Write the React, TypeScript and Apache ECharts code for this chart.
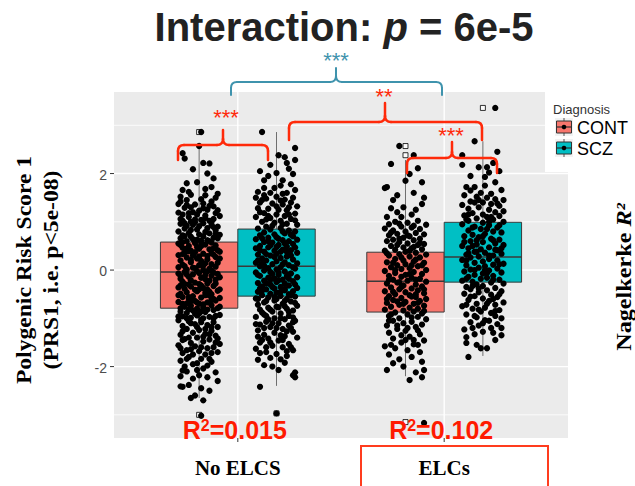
import React, { useEffect, useRef } from 'react';
import * as echarts from 'echarts';

// ---------- data ----------
const categories = ['No ELCS', 'ELCs'];
const categoryPos = [1, 2];
const groups = ['CONT', 'SCZ'];
const groupColors = ['#F8766D', '#00BFC4'];
const dodgeOffset = [-0.1875, 0.1875];
const boxHalfWidth = 0.1875;

// [lower whisker, Q1, median, Q3, upper whisker] per category
const boxCONT = [
  [-2.65, -0.79, -0.04, 0.58, 2.59],
  [-2.2, -0.87, -0.23, 0.37, 2.28],
];
const boxSCZ = [
  [-2.4, -0.54, 0.08, 0.85, 2.86],
  [-1.78, -0.25, 0.27, 0.99, 2.67],
];
const outliersCONT = [[2.86, -3.0], [2.57, 2.38, -3.15]];
const outliersSCZ = [[-2.97], [3.36]];

const yMajorTicks = [-2, 0, 2];
const yMinorTicks = [-3, -1, 1, 3];
const r2Values = ['0.015', '0.102'];

// jitter points: [horizontal jitter in hundredths of a category unit, score]
const jitterContNoElcs = [
  [-8, 2.42], [-7, 2.31], [0, 2.57], [1, 2.86], [-3, 2.09], [2, 2.22], [5, 2.21], [4, 2.0], [7, 1.9], [-6, 1.8],
  [-1, 1.82], [-8, 1.66], [3, 1.68], [6, 1.72], [-9, 1.52], [-4, 1.56], [1, 1.47], [8, 1.5], [-2, 1.36], [5, 1.33],
  [-7, 1.29], [9, 1.24], [-10, 1.19], [0, 1.23], [3, 1.13], [-5, 1.1], [7, 1.06], [-8, 1.02], [-2, 1.05], [10, 1.12],
  [-4, 1.3], [6, 1.42], [-9, 1.42], [-6, 1.45], [2, 1.38], [4, 1.25], [-8, 1.15], [-1, 1.15], [8, 1.18], [-6, 1.35],
  [1, 1.04], [-4, 1.0], [7, 1.32], [-10, 1.37], [3, 1.55], [-5, 1.62], [9, 1.58],
  [-9, 0.96], [-3, 0.94], [2, 0.97], [6, 0.93], [9, 0.9], [-7, 0.86], [-1, 0.84], [4, 0.87], [8, 0.82], [-10, 0.8],
  [-5, 0.77], [0, 0.74], [5, 0.76], [-8, 0.72], [10, 0.73], [2, 0.7], [-9, 0.66], [-3, 0.64], [7, 0.67], [1, 0.61],
  [-6, 0.6], [4, 0.62], [-10, 0.55], [-2, 0.56], [3, 0.53], [8, 0.51], [-5, 0.5], [6, 0.57], [-8, 0.46], [0, 0.44],
  [5, 0.43], [9, 0.41], [-4, 0.4], [-1, 0.48], [-7, 0.36], [2, 0.34], [7, 0.32], [-10, 0.31], [-3, 0.3], [10, 0.38],
  [-6, 0.26], [-1, 0.24], [4, 0.22], [8, 0.27], [-9, 0.2], [1, 0.19], [-4, 0.16], [3, 0.14], [6, 0.12], [-8, 0.11],
  [0, 0.1], [9, 0.15], [-10, 0.06], [-2, 0.04], [5, 0.03], [-6, 0.01], [2, 0.0], [8, 0.07],
  [-7, -0.04], [0, -0.06], [4, -0.03], [9, -0.08], [-3, -0.09], [-10, -0.07], [-5, -0.14], [1, -0.16], [6, -0.12], [-9, -0.18],
  [3, -0.19], [10, -0.15], [-8, -0.24], [-2, -0.26], [5, -0.22], [8, -0.28], [0, -0.29], [-5, -0.3], [-10, -0.36], [-4, -0.34],
  [2, -0.37], [7, -0.33], [-7, -0.39], [4, -0.4], [-6, -0.46], [-1, -0.44], [3, -0.47], [9, -0.43], [-9, -0.49], [6, -0.5],
  [-8, -0.56], [-3, -0.54], [1, -0.57], [5, -0.53], [10, -0.58], [-5, -0.6], [-10, -0.66], [-2, -0.64], [4, -0.67], [8, -0.63],
  [-6, -0.69], [0, -0.7], [-7, -0.76], [-4, -0.74], [2, -0.77], [6, -0.73], [9, -0.79], [-1, -0.8], [-9, -0.86], [-3, -0.84],
  [3, -0.87], [7, -0.83], [-6, -0.89], [0, -0.9], [-8, -0.96], [-1, -0.94], [5, -0.97], [10, -0.93], [-4, -0.99], [2, -1.0],
  [-10, -1.04], [-5, -1.06], [1, -1.03], [7, -1.08], [-2, -1.12], [4, -1.14], [9, -1.18], [-8, -1.16], [-6, -1.22], [0, -1.24],
  [6, -1.26], [-3, -1.3], [3, -1.32], [-9, -1.34], [8, -1.36], [-1, -1.4], [-7, -1.43], [5, -1.44], [2, -1.48], [-4, -1.51],
  [10, -1.53], [-10, -1.56], [-2, -1.58], [4, -1.62], [7, -1.6], [-6, -1.66], [0, -1.68], [-8, -1.72], [3, -1.75], [9, -1.7],
  [-5, -1.8], [1, -1.84], [-9, -1.88], [6, -1.9], [-3, -1.95], [-7, -2.0], [2, -2.04], [-1, -2.07], [-6, -2.1], [8, -2.12],
  [-9, -2.2], [4, -2.22], [-3, -2.25], [9, -2.3], [-8, -2.42], [-5, -2.38], [1, -2.45], [5, -2.5], [-2, -2.6], [-4, -2.65],
  [2, -2.7], [-9, -2.41], [1, -3.02],
  [-5, 1.18], [3, 1.08], [-9, 1.06], [6, 0.99], [-2, 0.99], [0, 0.91], [-6, 0.92], [7, 0.89], [3, 0.79], [-4, 0.83],
  [-7, 0.7], [9, 0.66], [-1, 0.63], [5, 0.6], [-9, 0.52], [1, 0.5], [-6, 0.44], [7, 0.45], [-2, 0.37], [4, 0.29],
  [-8, 0.33], [10, 0.24], [-4, 0.21], [2, 0.09], [-7, 0.08], [6, -0.01], [-1, -0.02], [-9, -0.12], [3, -0.1], [8, -0.2],
  [-4, -0.21], [1, -0.32], [-7, -0.29], [10, -0.4], [-2, -0.41], [5, -0.45], [-10, -0.52], [3, -0.52], [-5, -0.56], [7, -0.6],
  [-1, -0.67], [2, -0.71], [-8, -0.7], [10, -0.76], [-5, -0.82], [4, -0.82], [-2, -0.9], [8, -0.95], [-10, -0.96], [1, -1.08],
  [-4, -1.1], [6, -1.18], [-8, -1.27], [3, -1.22], [9, -1.42], [-5, -1.4], [1, -1.6], [-9, -1.62], [6, -1.72], [-3, -1.75],
  [-1, -1.93], [4, -1.98], [-8, -2.08],
  [2, 1.28], [-3, 1.2], [5, 1.02], [-7, 0.97], [8, 0.75], [-4, 0.69], [1, 0.56], [-8, 0.58], [6, 0.35], [-5, 0.39],
  [0, 0.28], [-3, 0.05], [7, -0.05], [-6, -0.09], [4, -0.28], [-9, -0.32], [0, -0.4], [6, -0.62], [-4, -0.64], [-9, -0.79],
  [1, -0.86], [7, -1.0], [-6, -1.0], [-1, -1.18], [5, -1.33], [-8, -1.45], [2, -1.38], [8, -1.5], [-4, -1.64], [5, -1.84],
  [-6, -1.84], [0, -2.18],
];

const jitterSczNoElcs = [
  [-7, 2.86], [9, 2.53], [1, 2.38], [4, 2.34], [-3, 2.18], [9, 2.28], [8, 1.99], [5, 2.22], [0, 2.01], [-6, 1.86],
  [3, 1.86], [-9, 1.62], [9, 1.66], [-4, 1.95], [6, 2.1], [-8, 2.05], [2, 1.75], [-1, 1.7], [-6, 1.55], [7, 1.78],
  [-10, 1.5], [-5, 1.48], [0, 1.52], [4, 1.46], [8, 1.5], [-8, 1.4], [-2, 1.38], [3, 1.36], [7, 1.4], [10, 1.32],
  [-9, 1.28], [-4, 1.27], [1, 1.25], [5, 1.24], [-6, 1.18], [0, 1.15], [4, 1.12], [9, 1.17], [-10, 1.1], [-3, 1.08],
  [7, 1.06], [2, 1.02], [-7, 1.0], [-1, 0.98], [5, 0.96], [10, 0.94], [-5, 0.9], [3, 1.58], [-3, 1.6], [6, 1.3],
  [-9, 0.86], [-3, 0.84], [2, 0.87], [6, 0.82], [9, 0.8], [-6, 0.78], [-1, 0.74], [4, 0.76], [-8, 0.72], [8, 0.7],
  [0, 0.68], [-4, 0.67], [-10, 0.64], [3, 0.62], [6, 0.6], [-6, 0.58], [10, 0.63], [-2, 0.57], [1, 0.52], [-8, 0.5],
  [5, 0.49], [8, 0.54], [-4, 0.47], [-10, 0.45], [3, 0.42], [-1, 0.4], [7, 0.41], [-6, 0.38], [10, 0.36], [0, 0.34],
  [-9, 0.32], [-3, 0.3], [5, 0.28], [2, 0.25], [-7, 0.24], [8, 0.22], [-5, 0.2], [0, 0.18], [4, 0.16], [10, 0.14],
  [-10, 0.15], [-2, 0.12], [6, 0.1], [-8, 0.08], [2, 0.06], [-4, 0.04], [9, 0.03], [0, 0.01], [-6, -0.01], [4, -0.03],
  [-10, -0.05], [7, -0.07], [-2, -0.08], [1, -0.1], [-8, -0.12], [5, -0.13], [10, -0.15], [-4, -0.16], [-1, -0.18], [3, -0.2],
  [-6, -0.22], [8, -0.23], [0, -0.25], [-9, -0.27], [4, -0.28], [-3, -0.3], [6, -0.32], [-7, -0.34], [2, -0.35], [10, -0.37],
  [-1, -0.38], [-5, -0.4], [4, -0.42], [8, -0.44], [-9, -0.45], [0, -0.47], [-3, -0.49], [6, -0.5], [-7, -0.52], [2, -0.54],
  [9, -0.55], [-4, -0.57], [-10, -0.59], [5, -0.6],
  [-1, -0.63], [7, -0.65], [-6, -0.67], [3, -0.7], [-9, -0.72], [10, -0.74], [0, -0.76], [-4, -0.78], [5, -0.8], [-8, -0.82],
  [8, -0.84], [-2, -0.86], [2, -0.9], [-6, -0.92], [6, -0.95], [-10, -0.97], [-1, -1.0], [4, -1.02], [9, -1.05], [-5, -1.07],
  [1, -1.1], [-8, -1.13], [6, -1.15], [-3, -1.18], [3, -1.22], [-9, -1.25], [8, -1.28], [-1, -1.3], [-6, -1.34], [4, -1.37],
  [10, -1.4], [-4, -1.42], [1, -1.46], [-8, -1.5], [6, -1.53], [-2, -1.57], [3, -1.6], [-10, -1.63], [8, -1.66], [-5, -1.7],
  [0, -1.74], [5, -1.78], [-7, -1.45], [7, -1.2],
  [-3, -1.82], [-9, -1.86], [-6, -1.97], [1, -2.07], [9, -2.12], [4, -1.92], [9, -2.22], [8, -2.18], [-8, -2.42], [0, -2.97],
  [-2, -2.0],
  [-7, 1.45], [2, 1.44], [-4, 1.12], [9, 1.03], [-8, 1.2], [3, 0.95], [-2, 0.92], [7, 0.73], [-7, 0.66], [1, 0.65],
  [4, 0.55], [-3, 0.51], [9, 0.47], [-8, 0.41], [2, 0.38], [-5, 0.33], [7, 0.3], [-1, 0.27], [-9, 0.2], [3, 0.12],
  [8, 0.06], [-6, 0.09], [-3, -0.04], [6, -0.09], [-9, -0.1], [1, -0.21], [-5, -0.28], [9, -0.3], [-2, -0.35], [4, -0.39],
  [-7, -0.43], [2, -0.45], [-1, -0.56], [7, -0.52], [-5, -0.64], [4, -0.64], [-9, -0.6], [9, -0.68], [1, -0.77], [-3, -0.82],
  [6, -0.87], [-7, -0.88], [2, -1.0], [-4, -1.02], [8, -1.08], [-10, -1.12], [0, -1.2], [5, -1.27], [-6, -1.2], [2, -1.35],
  [-3, -1.5], [7, -1.6], [-8, -1.72],
  [-6, 1.7], [5, 1.6], [0, 1.32], [-5, 1.05], [6, 1.15], [3, 0.8], [-4, 0.6], [0, 0.48], [5, 0.38], [-7, 0.13],
  [1, -0.05], [-3, -0.2], [6, -0.18], [-8, -0.38], [0, -0.6], [4, -0.75], [-5, -0.95], [8, -0.98], [-2, -1.1], [3, -1.45],
  [-5, -1.6], [5, -1.68], [-9, -1.38], [2, -1.85],
];

const jitterContElcs = [
  [-3, 2.57], [4, 2.38], [-7, 2.2], [2, 1.99], [6, 2.11], [-10, 1.7], [-9, 1.72], [-4, 1.55], [4, 1.6], [8, 1.82],
  [8, 1.37], [-9, 1.1], [-2, 1.1], [0, 1.85], [-6, 1.45], [5, 1.25], [-1, 1.3], [9, 1.5], [-7, 1.28],
  [-5, 1.0], [1, 0.98], [6, 1.02], [-8, 0.95], [10, 0.94], [-2, 0.9], [3, 0.88], [-10, 0.86], [7, 0.85], [-6, 0.82],
  [0, 0.8], [5, 0.77], [-4, 0.75], [9, 0.74], [-8, 0.72], [2, 0.7], [-1, 0.67], [7, 0.65], [-6, 0.63], [4, 0.62],
  [-9, 0.6], [-3, 0.58], [1, 0.55], [9, 0.54], [6, 0.52], [-7, 0.5], [-1, 0.47], [3, 0.45], [-5, 0.42], [8, 0.43],
  [-10, 0.4], [0, 0.38], [5, 0.36], [-3, 0.33], [10, 0.32], [-8, 0.3], [2, 0.28], [7, 0.26], [-5, 0.23], [-1, 0.2],
  [4, 0.18], [-9, 0.16], [9, 0.15], [0, 0.12], [-4, 0.1], [6, 0.08], [-7, 0.06], [2, 0.04], [-2, 0.02], [10, 0.0],
  [-10, -0.02], [4, -0.04], [-5, -0.06], [8, -0.08], [0, -0.1], [-8, -0.12], [-2, -0.14], [3, -0.16], [7, -0.18], [-6, -0.2],
  [1, -0.22], [10, -0.24], [-4, -0.26], [-9, -0.28], [5, -0.3], [-1, -0.32], [8, -0.34], [-7, -0.36], [3, -0.38], [-3, -0.4],
  [6, -0.42], [-10, -0.44], [0, -0.46], [9, -0.48], [-5, -0.5], [2, -0.52], [-8, -0.54], [5, -0.56], [-2, -0.58], [10, -0.6],
  [-6, -0.62], [7, -0.64], [0, -0.66], [-9, -0.68], [4, -0.7], [-3, -0.72], [9, -0.74], [-7, -0.76], [2, -0.78], [6, -0.8],
  [-10, -0.82], [-1, -0.84], [4, -0.86], [-5, -0.88], [8, -0.9], [1, -0.92], [-8, -0.95], [6, -0.97], [-3, -1.0], [10, -1.02],
  [-6, -1.05], [3, -1.07], [-1, -1.1], [8, -1.13], [-9, -1.15],
  [5, -1.18], [-4, -1.22], [0, -1.26], [-8, -1.3], [7, -1.33], [2, -1.38], [-6, -1.42], [9, -1.46], [-2, -1.5], [4, -1.54],
  [-10, -1.58], [-5, -1.62], [1, -1.66], [7, -1.7], [-8, -1.75], [3, -1.8], [-3, -1.85], [-6, -1.93], [8, -1.9], [-9, -2.07],
  [2, -2.28], [8, -2.22], [9, -2.07], [-1, -2.0], [5, -2.12], [9, -3.17],
  [-3, 0.96], [4, 0.92], [-7, 0.78], [1, 0.72], [7, 0.56], [-4, 0.52], [2, 0.4], [-9, 0.35], [5, 0.22], [-2, 0.26],
  [8, 0.1], [-5, 0.0], [2, -0.08], [-8, -0.2], [5, -0.2], [-2, -0.35], [9, -0.4], [-6, -0.45], [3, -0.55], [-9, -0.6],
  [6, -0.68], [-1, -0.7], [9, -0.85], [-7, -0.92], [3, -0.98], [-4, -1.15], [6, -1.25], [-2, -1.35], [4, -1.45], [-7, -1.55],
  [0, -1.45], [6, -1.55],
  [3, 1.15], [-4, 1.2], [-3, 0.65], [4, 0.48], [-6, 0.15], [3, 0.1], [-3, -0.25], [5, -0.5], [-4, -0.65], [1, -1.2],
  [-8, -1.05],
];

const jitterSczElcs = [
  [6, 3.36], [-4, 2.67], [7, 2.45], [-10, 2.38], [-10, 2.18], [-2, 2.13], [2, 2.13], [5, 2.22], [1, 1.93], [6, 1.82],
  [-8, 1.72], [-4, 1.72], [9, 1.66], [-6, 1.95], [3, 2.02], [-1, 1.6], [8, 2.05],
  [-9, 1.55], [-3, 1.52], [2, 1.5], [6, 1.47], [10, 1.45], [-6, 1.42], [0, 1.4], [4, 1.37], [-10, 1.35], [8, 1.33],
  [-2, 1.3], [-7, 1.27], [3, 1.25], [10, 1.22], [6, 1.2], [-5, 1.18], [0, 1.15], [-9, 1.13], [8, 1.12], [2, 1.1],
  [-3, 1.07], [5, 1.05], [-7, 1.02], [10, 1.0], [0, 0.98], [-10, 0.95], [3, 0.93], [-4, 0.9], [7, 0.88], [-1, 0.85],
  [-7, 0.82], [5, 0.8], [9, 0.78], [1, 0.75], [-5, 0.73], [-9, 0.7], [-2, 0.68], [4, 0.65], [8, 0.63], [-6, 0.6],
  [0, 0.58], [6, 0.55], [-3, 0.53], [10, 0.52], [-10, 0.5], [3, 0.47], [-7, 0.45], [-1, 0.43], [7, 0.41], [-4, 0.38],
  [1, 0.36], [9, 0.34], [-8, 0.32], [5, 0.3], [-2, 0.28], [-6, 0.26], [3, 0.23], [-10, 0.21], [7, 0.2], [0, 0.18],
  [-4, 0.15], [10, 0.13], [5, 0.11], [-8, 0.1], [1, 0.08], [-2, 0.05], [7, 0.03], [-6, 0.01], [3, -0.01], [-9, -0.03],
  [9, -0.05], [0, -0.07], [-4, -0.1], [5, -0.12], [-7, -0.14], [2, -0.16], [-1, -0.18], [8, -0.2], [-10, -0.22], [-5, -0.24],
  [4, -0.26], [10, -0.28], [-3, -0.3], [0, -0.33], [-8, -0.35], [6, -0.37], [-6, -0.4], [2, -0.42], [9, -0.44], [-2, -0.46],
  [-9, -0.49], [4, -0.51], [-4, -0.54], [7, -0.56], [0, -0.59], [-7, -0.62], [3, -0.64], [10, -0.67], [-3, -0.7], [6, -0.72],
  [-10, -0.75], [1, -0.78], [-5, -0.8], [8, -0.83], [-1, -0.86], [4, -0.89], [-8, -0.92], [6, -0.95], [-3, -0.98], [9, -1.0],
  [1, -1.04], [-6, -1.08], [7, -1.12], [-2, -1.15], [4, -1.2], [-9, -1.23], [9, -1.2], [0, -1.28], [-8, -1.39], [-8, -1.51],
  [-3, -1.55], [-1, -1.62], [2, -1.62], [-7, -1.8], [9, -1.35], [5, -1.3], [-4, -1.33],
  [-6, 1.65], [4, 1.58], [7, 1.38], [-4, 1.4], [-8, 1.05], [3, 1.0], [8, 0.93], [-5, 0.88], [0, 0.7], [-9, 0.58],
  [5, 0.62], [-5, 0.5], [9, 0.45], [-3, 0.38], [3, 0.3], [-8, 0.2], [8, 0.12], [-4, 0.0], [2, -0.06], [-8, -0.18],
  [5, -0.2], [-2, -0.38], [8, -0.5], [-6, -0.55], [2, -0.7], [-8, -0.72], [6, -0.85], [-4, -0.95], [3, -1.05], [-5, -1.2],
  [1, 1.75], [-2, 1.45], [4, 1.1], [-7, 1.15], [2, 0.85], [-3, 0.62], [6, 0.42], [-7, 0.35], [1, 0.0], [-5, -0.33],
  [5, -0.6], [-2, -0.82], [0, -1.1], [6, -1.45],
];

const jitterByGroup = [
  [jitterContNoElcs, jitterContElcs],
  [jitterSczNoElcs, jitterSczElcs],
];

// ---------- styling helpers ----------
const SANS = "'Liberation Sans', Arial, Helvetica, sans-serif";
const SERIF = "'Liberation Serif', 'Times New Roman', Times, serif";
const RED = '#ff2a0a';
const TEAL = '#3f93ad';

function brace(x1: number, x2: number, xm: number, yH: number, yEnd: number, yPeak: number, color: string, lw: number) {
  const r = 6;
  const st = { stroke: color, lineWidth: lw, fill: 'none', lineCap: 'round' };
  const z = 100;
  return {
    type: 'group',
    children: [
      { type: 'line', z, shape: { x1, y1: yEnd, x2: x1, y2: yH + r }, style: st },
      { type: 'bezierCurve', z, shape: { x1, y1: yH + r, cpx1: x1, cpy1: yH, x2: x1 + r, y2: yH }, style: st },
      { type: 'line', z, shape: { x1: x1 + r, y1: yH, x2: xm - r, y2: yH }, style: st },
      { type: 'bezierCurve', z, shape: { x1: xm - r, y1: yH, cpx1: xm, cpy1: yH, x2: xm, y2: yH - r }, style: st },
      { type: 'line', z, shape: { x1: xm, y1: yH - r, x2: xm, y2: yPeak }, style: st },
      { type: 'bezierCurve', z, shape: { x1: xm + r, y1: yH, cpx1: xm, cpy1: yH, x2: xm, y2: yH - r }, style: st },
      { type: 'line', z, shape: { x1: xm + r, y1: yH, x2: x2 - r, y2: yH }, style: st },
      { type: 'bezierCurve', z, shape: { x1: x2 - r, y1: yH, cpx1: x2, cpy1: yH, x2: x2, y2: yH + r }, style: st },
      { type: 'line', z, shape: { x1: x2, y1: yH + r, x2: x2, y2: yEnd }, style: st },
    ],
  };
}

function stars(text: string, x: number, y: number, color: string) {
  return {
    type: 'text', z: 100, x, y,
    style: { text, fill: color, fontSize: 22, fontFamily: SANS, align: 'center', verticalAlign: 'middle' },
  };
}

function legendKey(y: number, color: string, label: string) {
  const z = 100;
  return [
    { type: 'rect', z, shape: { x: 555, y, width: 18, height: 18 }, style: { fill: '#f2f2f2' } },
    { type: 'line', z, shape: { x1: 564, y1: y, x2: 564, y2: y + 18 }, style: { stroke: '#555', lineWidth: 1 } },
    { type: 'rect', z, shape: { x: 556.5, y: y + 3, width: 15, height: 12 }, style: { fill: color, stroke: '#333', lineWidth: 1 } },
    { type: 'line', z, shape: { x1: 556.5, y1: y + 9, x2: 571.5, y2: y + 9 }, style: { stroke: '#333', lineWidth: 1.2 } },
    { type: 'circle', z, shape: { cx: 564, cy: y + 9, r: 2.3 }, style: { fill: '#000' } },
    {
      type: 'text', z, x: 577, y: y + 9.5,
      style: { text: label, fill: '#000', fontSize: 18, fontFamily: SANS, align: 'left', verticalAlign: 'middle' },
    },
  ];
}

export default function App() {
  const ref = useRef<HTMLDivElement>(null);

  useEffect(() => {
    if (!ref.current) return;
    const chart = echarts.init(ref.current, undefined, { renderer: 'svg' });

    const boxStats = [boxCONT, boxSCZ];
    const boxData: number[][] = [];
    groups.forEach((_, g) => {
      categoryPos.forEach((cx, c) => {
        boxData.push([cx + dodgeOffset[g], ...boxStats[g][c], g]);
      });
    });

    const pointData: number[][] = [];
    groups.forEach((_, g) => {
      categoryPos.forEach((cx, c) => {
        jitterByGroup[g][c].forEach(([dx, y]) => pointData.push([cx + dodgeOffset[g] + dx / 100, y]));
      });
    });

    const outlierData: number[][] = [];
    [outliersCONT, outliersSCZ].forEach((list, g) => {
      list.forEach((vals, c) => vals.forEach((v) => outlierData.push([categoryPos[c] + dodgeOffset[g], v])));
    });

    const yGridData = [...yMinorTicks, ...yMajorTicks].map((v) => [1, v]);
    const xGridData = categoryPos.map((p) => [p, 0]);

    const option: any = {
      animation: false,
      grid: { left: 114, top: 92, width: 454, height: 346, show: true, backgroundColor: '#EBEBEB', borderWidth: 0 },
      xAxis: { type: 'value', min: 0.4, max: 2.6, show: false },
      yAxis: { type: 'value', min: -3.48, max: 3.69, show: false },
      series: [
        {
          type: 'custom', name: 'ygrid', z: 1, silent: true, data: yGridData, encode: { x: 0, y: 1 },
          renderItem: (params: any, api: any) => {
            const v = api.value(1);
            const cs = params.coordSys;
            const y = api.coord([1, v])[1];
            const major = yMajorTicks.includes(v);
            const children: any[] = [
              { type: 'line', shape: { x1: cs.x, y1: y, x2: cs.x + cs.width, y2: y }, style: { stroke: '#ffffff', lineWidth: major ? 1.4 : 0.8 } },
            ];
            if (major) {
              children.push({ type: 'line', shape: { x1: cs.x - 4, y1: y, x2: cs.x, y2: y }, style: { stroke: '#333', lineWidth: 1 } });
              children.push({
                type: 'text', x: cs.x - 7, y: y + 1,
                style: { text: String(v), fill: '#4d4d4d', fontSize: 14, fontFamily: SANS, align: 'right', verticalAlign: 'middle' },
              });
            }
            return { type: 'group', children };
          },
        },
        {
          type: 'custom', name: 'xgrid', z: 1, silent: true, data: xGridData, encode: { x: 0, y: 1 },
          renderItem: (params: any, api: any) => {
            const cs = params.coordSys;
            const x = api.coord([api.value(0), 0])[0];
            const bottom = cs.y + cs.height;
            return {
              type: 'group',
              children: [
                { type: 'line', shape: { x1: x, y1: cs.y, x2: x, y2: bottom }, style: { stroke: '#ffffff', lineWidth: 1.4 } },
                { type: 'line', shape: { x1: x, y1: bottom, x2: x, y2: bottom + 4 }, style: { stroke: '#333', lineWidth: 1 } },
                {
                  type: 'text', x, y: bottom + 30,
                  style: { text: categories[params.dataIndex], fill: '#000', fontSize: 21, fontWeight: 'bold', fontFamily: SERIF, align: 'center', verticalAlign: 'middle' },
                },
              ],
            };
          },
        },
        {
          type: 'custom', name: 'boxes', z: 2, silent: true, data: boxData, encode: { x: 0, y: [1, 2, 3, 4, 5] },
          renderItem: (params: any, api: any) => {
            const x = api.value(0);
            const lo = api.value(1), q1 = api.value(2), med = api.value(3), q3 = api.value(4), hi = api.value(5);
            const g = api.value(6);
            const tl = api.coord([x - boxHalfWidth, q3]);
            const br = api.coord([x + boxHalfWidth, q1]);
            const c = api.coord([x, med]);
            const pHi = api.coord([x, hi]);
            const pLo = api.coord([x, lo]);
            return {
              type: 'group',
              children: [
                { type: 'line', shape: { x1: c[0], y1: pHi[1], x2: c[0], y2: tl[1] }, style: { stroke: '#6e6e6e', lineWidth: 1 } },
                { type: 'line', shape: { x1: c[0], y1: br[1], x2: c[0], y2: pLo[1] }, style: { stroke: '#6e6e6e', lineWidth: 1 } },
                { type: 'rect', shape: { x: tl[0], y: tl[1], width: br[0] - tl[0], height: br[1] - tl[1] }, style: { fill: groupColors[g], stroke: '#3a3a3a', lineWidth: 1 } },
                { type: 'line', shape: { x1: tl[0], y1: c[1], x2: br[0], y2: c[1] }, style: { stroke: '#3a3a3a', lineWidth: 1.5 } },
              ],
            };
          },
        },
        {
          type: 'scatter', name: 'outliers', z: 3, silent: true, data: outlierData,
          symbol: 'rect', symbolSize: 5, itemStyle: { color: '#ffffff', borderColor: '#000', borderWidth: 1 },
        },
        {
          type: 'scatter', name: 'points', z: 4, silent: true, data: pointData,
          symbol: 'circle', symbolSize: 6.3, itemStyle: { color: '#000000', opacity: 1 },
        },
        {
          type: 'custom', name: 'r2', z: 10, silent: true, data: xGridData, encode: { x: 0, y: 1 },
          renderItem: (params: any, api: any) => {
            const cs = params.coordSys;
            const x = api.coord([api.value(0), 0])[0];
            return {
              type: 'text', x: x - 3, y: cs.y + cs.height - 8,
              style: {
                text: `{a|R}{s|2}{a|=${r2Values[params.dataIndex]}}`, align: 'center', verticalAlign: 'middle',
                rich: {
                  a: { fontSize: 25, fontWeight: 'bold', fontFamily: SANS, fill: '#ff1a00', lineHeight: 26 },
                  s: { fontSize: 16, fontWeight: 'bold', fontFamily: SANS, fill: '#ff1a00', verticalAlign: 'top', lineHeight: 16 },
                },
              },
            };
          },
        },
      ],
      graphic: [
        // legend area covering the top-right corner of the panel
        { type: 'rect', z: 90, shape: { x: 545, y: 92, width: 90, height: 80 }, style: { fill: '#ffffff' } },
        {
          type: 'text', z: 100, x: 553, y: 109,
          style: { text: 'Diagnosis', fill: '#333', fontSize: 13, fontFamily: SANS, align: 'left', verticalAlign: 'middle' },
        },
        ...legendKey(118, groupColors[0], groups[0]),
        ...legendKey(139, groupColors[1], groups[1]),
        // title
        {
          type: 'text', z: 100, x: 344, y: 27,
          style: {
            text: '{b|Interaction: }{i|p}{b| = 6e-5}', align: 'center', verticalAlign: 'middle',
            rich: {
              b: { fontSize: 40, fontWeight: 'bold', fontFamily: SANS, fill: '#222222' },
              i: { fontSize: 40, fontWeight: 'bold', fontStyle: 'italic', fontFamily: SANS, fill: '#222222' },
            },
          },
        },
        // y axis title
        {
          type: 'text', z: 100, x: 38, y: 270, rotation: Math.PI / 2, scaleX: 1.18,
          style: {
            text: 'Polygenic Risk Score 1\n(PRS1, i.e. p<5e-08)', fill: '#000', fontSize: 20, fontWeight: 'bold',
            fontFamily: SERIF, align: 'center', verticalAlign: 'middle', lineHeight: 27,
          },
        },
        // right title
        {
          type: 'text', z: 100, x: 623, y: 277, rotation: Math.PI / 2, scaleX: 1.1,
          style: {
            text: '{n|Nagelkerke }{i|R²}', align: 'center', verticalAlign: 'middle',
            rich: {
              n: { fontSize: 22, fontWeight: 'bold', fontFamily: SERIF, fill: '#000' },
              i: { fontSize: 22, fontWeight: 'bold', fontStyle: 'italic', fontFamily: SERIF, fill: '#000' },
            },
          },
        },
        // significance braces
        brace(231, 442, 336, 82, 95, 68, TEAL, 2),
        brace(178, 268, 223, 145, 160, 130, RED, 2.5),
        brace(289, 482, 385, 122, 140, 103, RED, 2.5),
        brace(407, 497, 452, 158, 173, 142, RED, 2.5),
        stars('***', 336, 60, TEAL),
        stars('***', 226, 117, RED),
        stars('**', 384, 96, RED),
        stars('***', 451, 135, RED),
        // highlight box around ELCs
        { type: 'rect', z: 100, shape: { x: 361, y: 446, width: 187, height: 60 }, style: { fill: 'none', stroke: '#ff3c1e', lineWidth: 2 } },
      ],
    };

    chart.setOption(option);
    return () => chart.dispose();
  }, []);

  return <div ref={ref} style={{ position: 'fixed', left: 0, top: 0, width: 635, height: 486, background: '#ffffff' }} />;
}
